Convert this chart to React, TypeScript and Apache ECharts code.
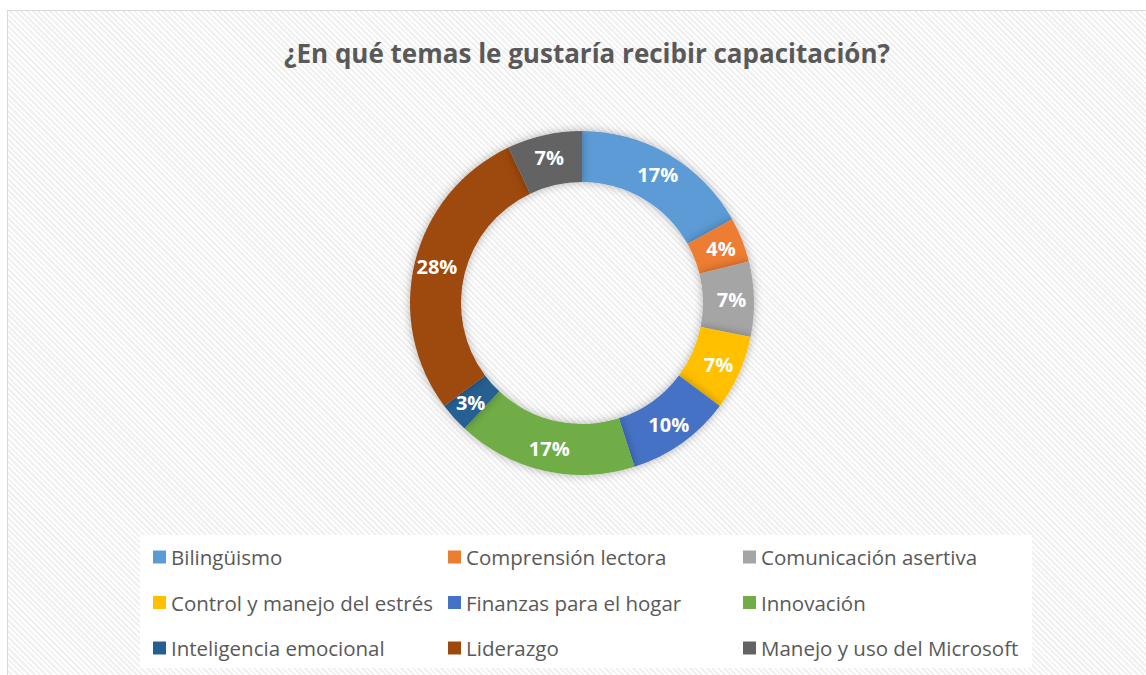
import React, { useEffect, useRef } from "react";
import * as echarts from "echarts";

const titleText = "¿En qué temas le gustaría recibir capacitación?";
const categories = [
  "Bilingüismo",
  "Comprensión lectora",
  "Comunicación asertiva",
  "Control y manejo del estrés",
  "Finanzas para el hogar",
  "Innovación",
  "Inteligencia emocional",
  "Liderazgo",
  "Manejo y uso del Microsoft",
];
const counts = [12, 3, 5, 5, 7, 12, 2, 20, 5];
const colors = [
  "#5B9BD5",
  "#ED7D31",
  "#A5A5A5",
  "#FFC000",
  "#4472C4",
  "#70AD47",
  "#255E91",
  "#9E480E",
  "#636363",
];

const FONT = "'Open Sans', 'Noto Sans', sans-serif";

export default function App() {
  const ref = useRef<HTMLDivElement>(null);
  useEffect(() => {
    if (!ref.current) return;
    const chart = echarts.init(ref.current, undefined, { renderer: "svg" });
    const colLefts = [148, 443, 738];
    const legends = [0, 1, 2].map((c) => ({
      orient: "vertical" as const,
      left: colLefts[c],
      top: 540,
      itemWidth: 13,
      itemHeight: 13,
      itemGap: 21.5,
      icon: "rect",
      data: categories.filter((_, i) => i % 3 === c),
      textStyle: {
        fontFamily: FONT,
        fontSize: 20.5,
        color: "#595959",
        lineHeight: 24,
        padding: [0, 0, 0, 0],
      },
      selectedMode: false,
    }));
    chart.setOption({
      animation: false,
      backgroundColor: "transparent",
      color: colors,
      title: {
        text: titleText,
        left: 582,
        textAlign: "center",
        top: 35,
        textStyle: {
          fontFamily: FONT,
          fontSize: 26,
          fontWeight: "bold",
          color: "#595959",
        },
      },
      graphic: [
        {
          type: "rect",
          shape: { x: 140, y: 535, width: 892, height: 133 },
          style: { fill: "#ffffff" },
          z: -1,
        },
      ],
      legend: legends,
      series: [
        {
          type: "pie",
          center: [582, 303],
          radius: [121, 172],
          startAngle: 90,
          clockwise: true,
          avoidLabelOverlap: false,
          label: {
            show: true,
            position: "inside",
            formatter: (p: any) => Math.round(p.percent) + "%",
            color: "#ffffff",
            fontFamily: FONT,
            fontSize: 20,
            fontWeight: "bold",
          },
          labelLine: { show: false },
          itemStyle: {
            shadowBlur: 10,
            shadowColor: "rgba(0,0,0,0.3)",
          },
          emphasis: { disabled: true },
          data: categories.map((name, i) => ({ name, value: counts[i] })),
        },
      ],
    });
    return () => chart.dispose();
  }, []);
  return (
    <div
      style={{
        position: "fixed",
        left: 0,
        top: 0,
        width: 1146,
        height: 675,
        background: "#ffffff",
      }}
    >
      <div
        style={{
          position: "absolute",
          left: 7,
          top: 10,
          right: 0,
          bottom: 0,
          borderLeft: "1px solid #d9d9d9",
          borderTop: "1px solid #d9d9d9",
          background:
            "repeating-linear-gradient(45deg, #ffffff 0px, #ffffff 2px, #f0f0f0 2px, #f0f0f0 4px)",
        }}
      />
      <div
        ref={ref}
        style={{ position: "absolute", left: 0, top: 0, width: 1146, height: 675 }}
      />
    </div>
  );
}
